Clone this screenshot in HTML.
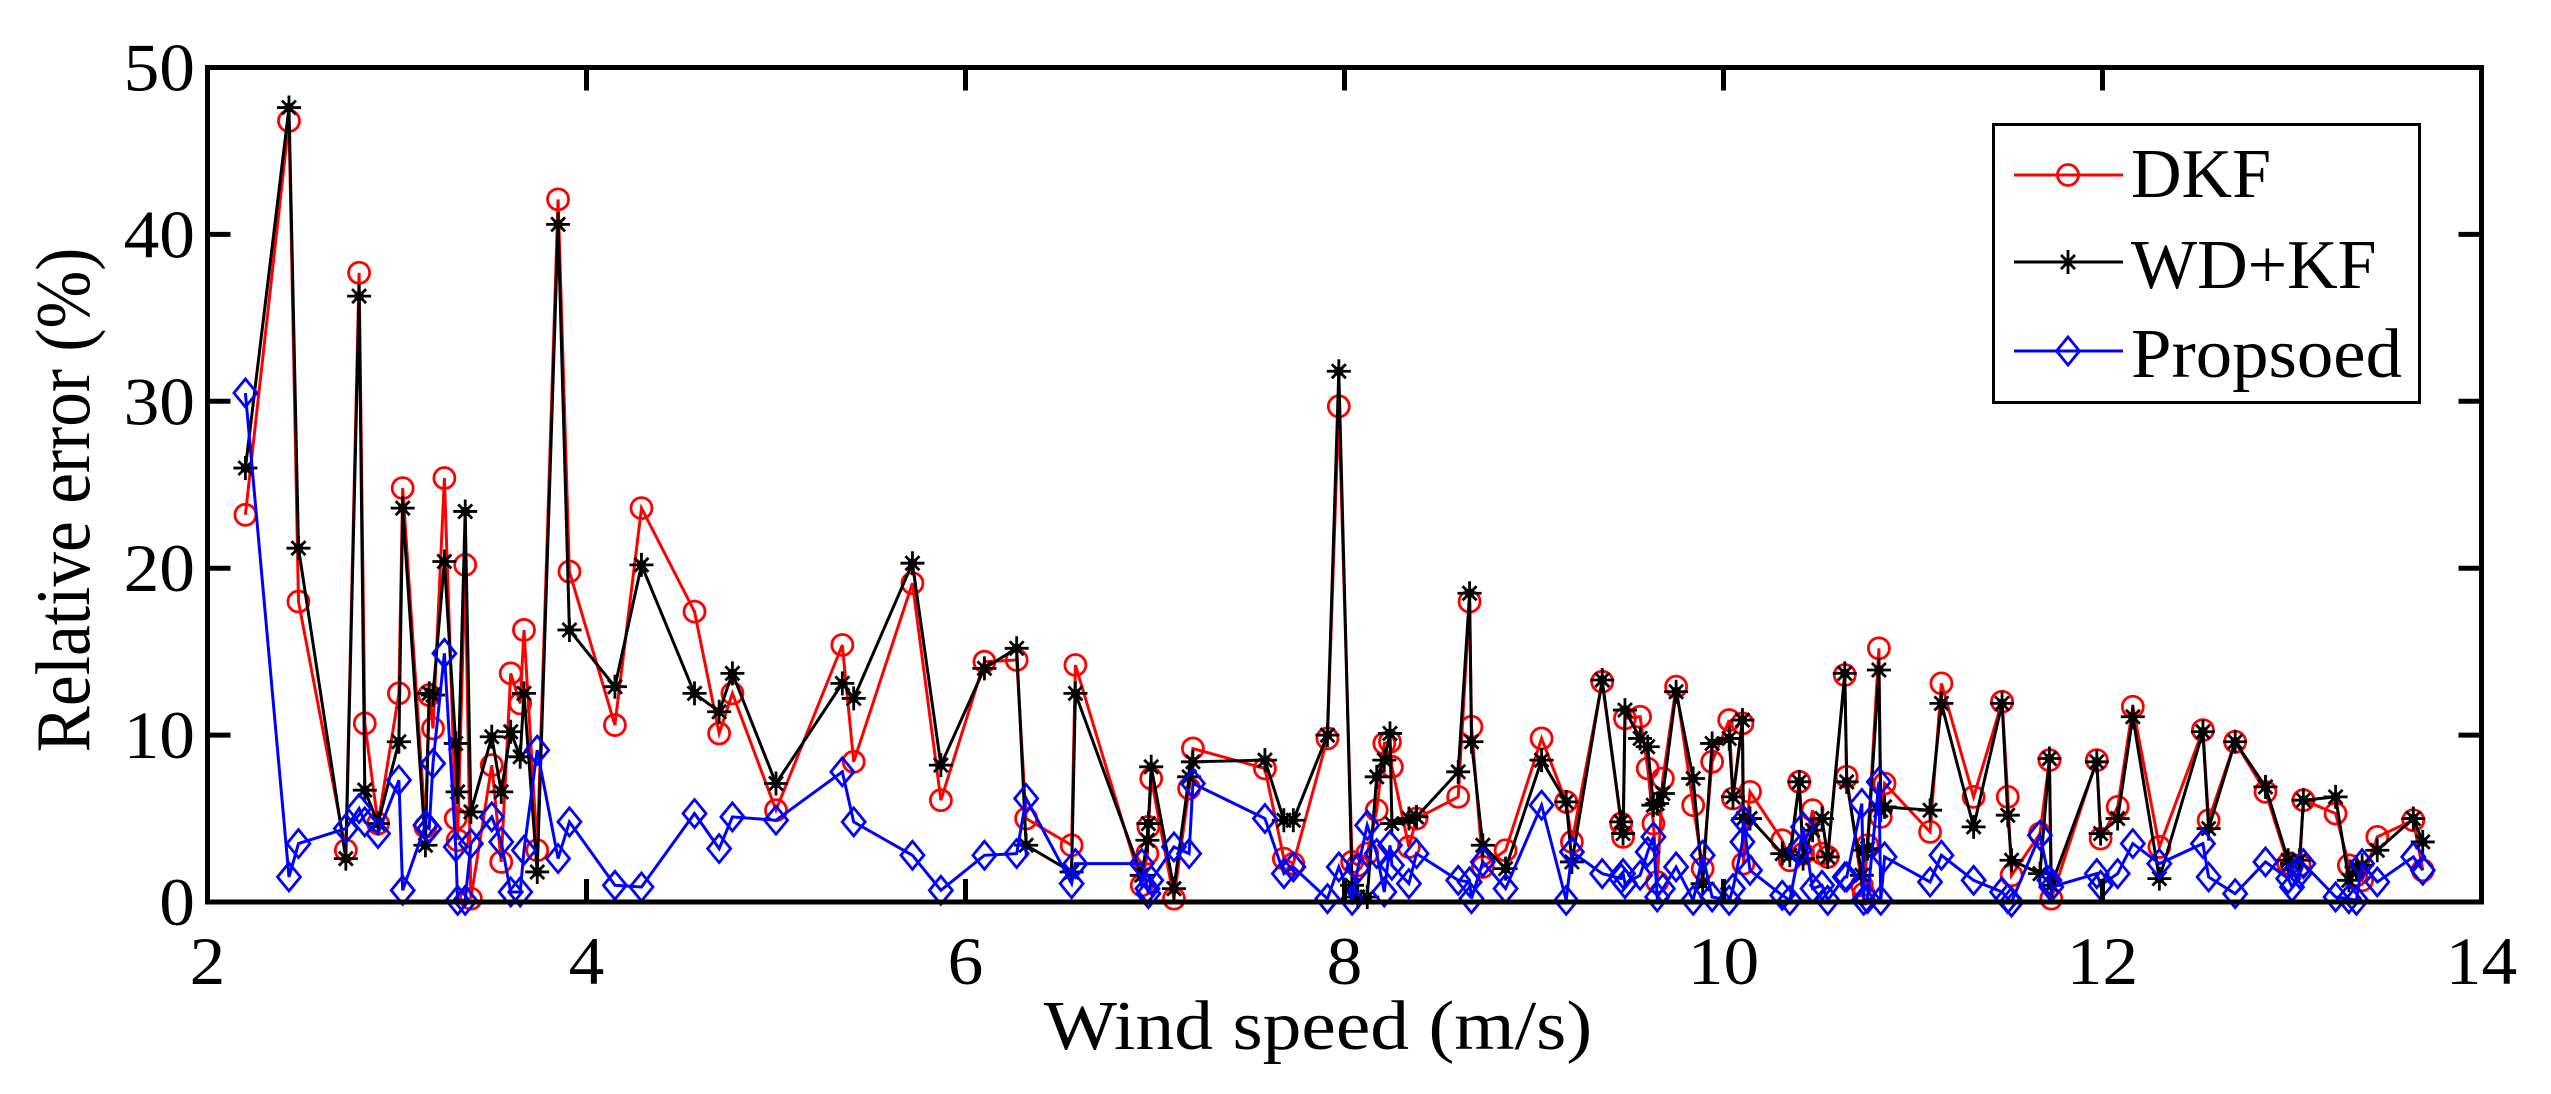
<!DOCTYPE html>
<html lang="en">
<head>
<meta charset="utf-8">
<title>Relative error vs wind speed</title>
<style>
  html, body { margin: 0; padding: 0; background: #fff; }
  body { width: 2551px; height: 1094px; overflow: hidden; }
  svg { display: block; font-family: "Liberation Serif", serif; fill: #000; }
  text { font-size: 70px; }
</style>
</head>
<body>
<svg id="chart" width="2551" height="1094" viewBox="0 0 2551 1094" xmlns="http://www.w3.org/2000/svg">
  <rect x="0" y="0" width="2551" height="1094" fill="#fff"/>
  <g id="series-layer"></g>
  <rect x="207.5" y="67.5" width="2274" height="834.5" fill="none" stroke="#000" stroke-width="5"/>
  <g id="x-axis"></g>
  <g id="y-axis"></g>
  <text transform="translate(1318 1049) scale(1.118 1)" text-anchor="middle" style="font-size:69.4px">Wind speed (m/s)</text>
  <text transform="translate(89 500) scale(1.118 1) rotate(-90)" text-anchor="middle" style="font-size:69.4px">Relative error (%)</text>
  <g>
    <rect x="1993.5" y="124.5" width="426" height="278" fill="#fff" stroke="#000" stroke-width="3"/>
    <g>
      <line x1="2014" y1="175" x2="2123" y2="175" stroke="#f00" stroke-width="3"/>
      <circle cx="2068" cy="175" r="10.5" fill="none" stroke="#f00" stroke-width="2.8"/>
      <text x="2131" y="197">DKF</text>
    </g>
    <g>
      <line x1="2014" y1="262" x2="2123" y2="262" stroke="#000" stroke-width="3"/>
      <path transform="translate(2068 262)" d="M-12 0H12M0-12V12M-7-7L7 7M-7 7L7-7" fill="none" stroke="#000" stroke-width="2.8"/>
      <text x="2131" y="288">WD+KF</text>
    </g>
    <g>
      <line x1="2014" y1="351" x2="2123" y2="351" stroke="#00f" stroke-width="3"/>
      <path transform="translate(2068 351)" d="M0-14L11.5 0L0 14L-11.5 0Z" fill="none" stroke="#00f" stroke-width="2.8"/>
      <text x="2131" y="377" textLength="271" lengthAdjust="spacingAndGlyphs">Propsoed</text>
    </g>
  </g>
</svg>
<script>
const windSpeed = [2.20,2.43,2.48,2.73,2.80,2.83,2.90,3.01,3.03,3.15,3.17,3.19,3.25,3.31,3.32,3.36,3.39,3.50,3.55,3.60,3.65,3.67,3.74,3.85,3.91,4.15,4.29,4.57,4.70,4.77,5.00,5.35,5.41,5.72,5.87,6.10,6.27,6.32,6.56,6.58,6.93,6.96,6.965,6.98,7.10,7.18,7.20,7.58,7.68,7.73,7.91,7.97,8.04,8.07,8.12,8.17,8.21,8.24,8.25,8.34,8.38,8.60,8.66,8.67,8.73,8.85,9.04,9.17,9.20,9.36,9.46,9.47,9.48,9.56,9.60,9.63,9.65,9.68,9.75,9.84,9.89,9.94,10.03,10.05,10.10,10.105,10.14,10.31,10.35,10.40,10.42,10.47,10.52,10.55,10.64,10.65,10.73,10.74,10.76,10.82,10.83,10.85,11.09,11.15,11.32,11.47,11.50,11.52,11.67,11.72,11.73,11.97,11.99,12.08,12.16,12.30,12.53,12.56,12.70,12.86,12.98,13.00,13.04,13.06,13.23,13.30,13.34,13.37,13.45,13.64,13.69];
const dkfError = [23.2,46.8,18.0,3.1,37.7,10.7,4.7,12.5,24.8,4.5,12.4,10.4,25.4,5.0,3.7,20.2,0.2,8.2,2.4,13.7,11.9,16.3,3.1,42.1,19.8,10.6,23.6,17.4,10.1,12.5,5.5,15.4,8.4,19.1,6.1,14.4,14.5,5.0,3.4,14.2,1.0,2.9,4.5,7.4,0.2,6.8,9.2,8.0,2.6,2.3,9.8,29.7,2.4,2.2,2.9,5.5,9.5,9.6,8.1,3.3,5.0,6.3,18.0,10.5,2.1,3.1,9.8,6.0,3.6,13.2,4.7,3.9,11.0,11.1,8.0,4.7,1.2,7.4,12.9,5.8,2.0,8.4,10.9,6.2,10.7,2.3,6.6,3.7,2.5,7.2,2.9,5.5,2.9,2.7,13.6,7.5,1.0,0.5,3.4,15.2,5.1,7.1,4.2,13.1,6.3,12.0,6.3,1.6,4.1,8.5,0.2,8.5,3.8,5.7,11.7,3.3,10.3,4.9,9.6,6.6,2.3,2.2,2.2,6.1,5.3,2.2,1.6,1.3,3.9,4.9,1.9];
const wdKfError = [26.0,47.6,21.2,2.6,36.3,6.7,4.7,9.6,23.6,3.4,12.5,12.4,20.4,9.5,6.6,23.4,5.4,9.9,6.6,10.2,8.7,12.5,1.8,40.6,16.3,12.9,20.2,12.5,11.4,13.7,7.1,13.1,12.2,20.3,8.2,14.0,15.2,3.4,1.8,12.5,1.6,3.7,4.7,8.1,0.8,7.5,8.4,8.5,4.9,4.9,10.0,31.8,1.0,0.3,0.3,7.5,8.5,10.1,4.7,5.0,5.1,7.8,18.5,9.6,3.4,2.0,8.5,6.0,2.4,13.3,4.8,4.1,11.5,9.8,9.3,5.8,5.9,6.5,12.6,7.4,1.1,9.5,9.8,6.3,10.9,5.0,5.0,2.9,2.8,7.2,2.6,4.3,5.0,2.7,13.7,7.2,1.6,3.1,3.2,13.9,5.5,5.7,5.5,11.9,4.5,11.9,5.2,2.5,1.7,8.6,1.0,8.4,4.1,5.0,11.1,1.4,10.2,4.4,9.6,6.9,2.5,2.3,2.5,6.1,6.3,1.3,2.1,2.2,3.1,5.0,3.6];
const proposedError = [30.5,1.5,3.5,4.4,5.6,4.8,4.1,7.3,0.7,4.6,4.4,8.3,14.9,3.3,0.1,0.1,3.5,5.1,3.6,0.6,0.6,3.1,9.1,2.6,4.8,1.0,0.9,5.3,3.2,5.1,4.9,7.8,4.8,2.8,0.7,2.8,2.9,6.2,1.1,2.3,2.3,0.8,0.5,1.3,3.3,2.9,7.1,5.0,1.7,2.1,0.2,2.1,0.1,2.0,4.6,2.9,0.6,3.4,2.2,1.1,2.9,1.3,1.2,0.2,2.4,0.8,5.8,0.1,3.0,1.7,1.4,1.7,1.1,1.6,3.0,3.9,0.3,0.8,2.1,0.1,2.8,0.3,0.1,0.8,3.6,4.9,1.9,0.4,0.1,3.1,4.5,0.8,1.0,0.1,1.5,1.5,5.9,0.1,0.2,7.2,0.1,2.7,1.2,2.8,1.3,0.6,0.2,0.0,4.0,1.3,0.9,1.7,1.0,1.7,3.5,2.3,3.5,1.5,0.5,2.4,1.4,0.9,1.7,2.3,0.3,0.2,0.1,2.3,1.2,2.7,1.9];
const xTickValues = [2,4,6,8,10,12,14];
const yTickValues = [0,10,20,30,40,50];

const svgNS = 'http://www.w3.org/2000/svg';
const plot = { left: 207.5, right: 2481.5, top: 67.5, bottom: 902 };
const xDomain = [2, 14];
const yDomain = [0, 50];

function xScale(v) {
  return plot.left + (v - xDomain[0]) / (xDomain[1] - xDomain[0]) * (plot.right - plot.left);
}
function yScale(v) {
  return plot.bottom - (v - yDomain[0]) / (yDomain[1] - yDomain[0]) * (plot.bottom - plot.top);
}
function make(tag, attrs, parent) {
  const el = document.createElementNS(svgNS, tag);
  for (const k in attrs) el.setAttribute(k, attrs[k]);
  parent.appendChild(el);
  return el;
}

const xAxis = document.getElementById('x-axis');
const yAxis = document.getElementById('y-axis');
const TICK = 23;

xTickValues.forEach(function (v) {
  const x = xScale(v);
  const bottomTick = make('line', { x1: x, x2: x, y1: plot.bottom, y2: plot.bottom - TICK, stroke: '#000', 'stroke-width': 5 }, xAxis);
  
  
  const topTick = make('line', { x1: x, x2: x, y1: plot.top, y2: plot.top + TICK, stroke: '#000', 'stroke-width': 5 }, xAxis);
  
  
  const label = make('text', { transform: 'translate(' + x + ' 984) scale(1.05 1)', 'text-anchor': 'middle', style: 'font-size:68px' }, xAxis);
  
  
  label.textContent = String(v);
});

yTickValues.forEach(function (v) {
  const y = yScale(v);
  const leftTick = make('line', { x1: plot.left, x2: plot.left + TICK, y1: y, y2: y, stroke: '#000', 'stroke-width': 5 }, yAxis);
  
  
  const rightTick = make('line', { x1: plot.right, x2: plot.right - TICK, y1: y, y2: y, stroke: '#000', 'stroke-width': 5 }, yAxis);
  
  
  const label = make('text', { transform: 'translate(195 ' + (y + 23) + ') scale(1.05 1)', 'text-anchor': 'end', style: 'font-size:68px' }, yAxis);
  
  
  label.textContent = String(v);
});

const seriesLayer = document.getElementById('series-layer');

function drawLine(values, color) {
  const pts = values.map(function (v, i) { return xScale(windSpeed[i]).toFixed(1) + ',' + yScale(v).toFixed(1); }).join(' ');
  return make('polyline', { points: pts, fill: 'none', stroke: color, 'stroke-width': 3, 'stroke-linejoin': 'miter' }, seriesLayer);
}

const dkfLine = drawLine(dkfError, '#f00');


dkfError.forEach(function (v, i) {
  const m = make('circle', { cx: xScale(windSpeed[i]), cy: yScale(v), r: 10.5, fill: 'none', stroke: '#f00', 'stroke-width': 2.8 }, seriesLayer);
  
  
});

const wdKfLine = drawLine(wdKfError, '#000');


wdKfError.forEach(function (v, i) {
  const m = make('path', {
    transform: 'translate(' + xScale(windSpeed[i]) + ' ' + yScale(v) + ')',
    d: 'M-12 0H12M0-12V12M-7-7L7 7M-7 7L7-7M-3 -3H3V3H-3Z',
    fill: '#000', stroke: '#000', 'stroke-width': 2.8
  }, seriesLayer);
  
  
});

const proposedLine = drawLine(proposedError, '#00f');


proposedError.forEach(function (v, i) {
  const m = make('path', {
    transform: 'translate(' + xScale(windSpeed[i]) + ' ' + yScale(v) + ')',
    d: 'M0-14L11.5 0L0 14L-11.5 0Z',
    fill: 'none', stroke: '#00f', 'stroke-width': 2.8
  }, seriesLayer);
  
  
});
</script>
</body>
</html>
